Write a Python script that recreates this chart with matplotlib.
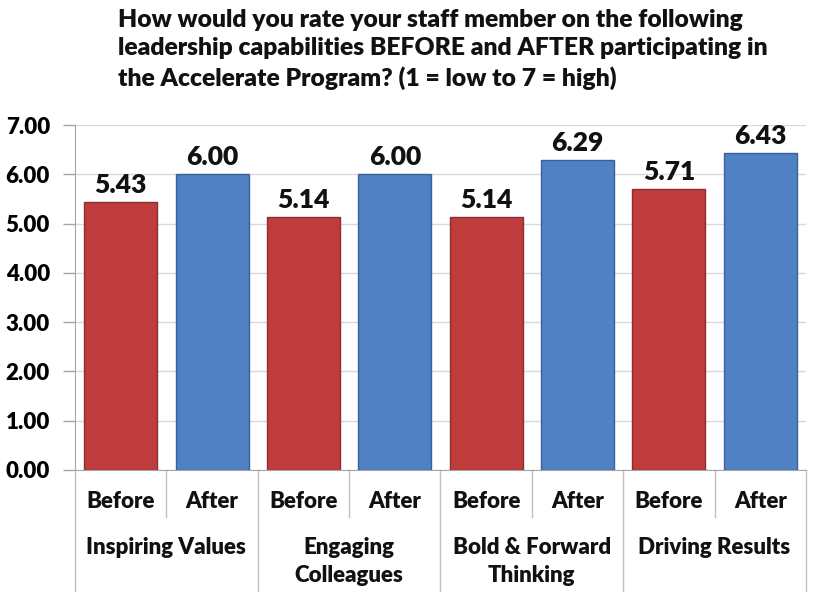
import matplotlib
matplotlib.use("Agg")
import matplotlib.pyplot as plt
import matplotlib.transforms as mtransforms

plt.rcParams['font.family'] = ['Lato', 'DejaVu Sans']

# data
groups = ['Inspiring Values', 'Engaging\nColleagues', 'Bold & Forward\nThinking', 'Driving Results']
phases = ['Before', 'After']
before = [5.43, 5.14, 5.14, 5.71]
after = [6.00, 6.00, 6.29, 6.43]
yticks = [0, 1, 2, 3, 4, 5, 6, 7]

red = '#BF3C3D'
blue = '#4F81C4'

fig = plt.figure(figsize=(8.14, 5.92), dpi=100)
ax = fig.add_axes([75/814, 122/592, 731/814, 345/592])

values, colors, edges = [], [], []
for b, a in zip(before, after):
    values += [b, a]
    colors += [red, blue]
    edges += ['#8C2E2E', '#3B6296']
xs = list(range(len(values)))

ax.bar(xs, values, width=0.8, color=colors, edgecolor=edges, linewidth=1, zorder=3)
for x, v in zip(xs, values):
    ax.text(x, v + 0.1, f'{v:.2f}', ha='center', va='bottom', fontsize=19,
            fontweight='heavy', color='#111111')

ax.set_xlim(-0.5, len(values) - 0.5)
ax.set_ylim(0, 7)
ax.set_yticks(yticks)
ax.set_yticklabels([f'{t:.2f}' for t in yticks], fontsize=16, fontweight='heavy')
ax.yaxis.grid(True, color='#D9D9D9', linewidth=1, zorder=0)
ax.tick_params(axis='y', length=9, width=1, color='#A6A6A6', pad=9)
ax.tick_params(axis='x', length=0)
ax.set_xticks([])
for s in ['top', 'right']:
    ax.spines[s].set_visible(False)
ax.spines['left'].set_color('#A6A6A6')
ax.spines['bottom'].set_color('#A6A6A6')

# category labels and separators below the axis
trans = mtransforms.blended_transform_factory(ax.transData, ax.transAxes)
for x in xs:
    ax.text(x, -0.09, phases[x % 2], transform=trans, ha='center', va='center',
            fontsize=16, fontweight='heavy', color='#111111')
for i, g in enumerate(groups):
    ax.text(2 * i + 0.5, -0.195, g, transform=trans, ha='center', va='top',
            fontsize=16, fontweight='heavy', color='#111111', linespacing=1.42)
for i in range(len(groups) + 1):
    ax.plot([2 * i - 0.5] * 2, [0, -0.36], transform=trans, color='#BFBFBF',
            linewidth=1, clip_on=False)
for i in range(len(groups)):
    ax.plot([2 * i + 0.5] * 2, [0, -0.135], transform=trans, color='#BFBFBF',
            linewidth=1, clip_on=False)

fig.text(118/814, 1 - 9/592,
         'How would you rate your staff member on the following\n'
         'leadership capabilities BEFORE and AFTER participating in\n'
         'the Accelerate Program? (1 = low to 7 = high)',
         ha='left', va='top', fontsize=17.7, fontweight='heavy',
         color='#111111', linespacing=1.36)

fig.savefig('out.png', dpi=100)
